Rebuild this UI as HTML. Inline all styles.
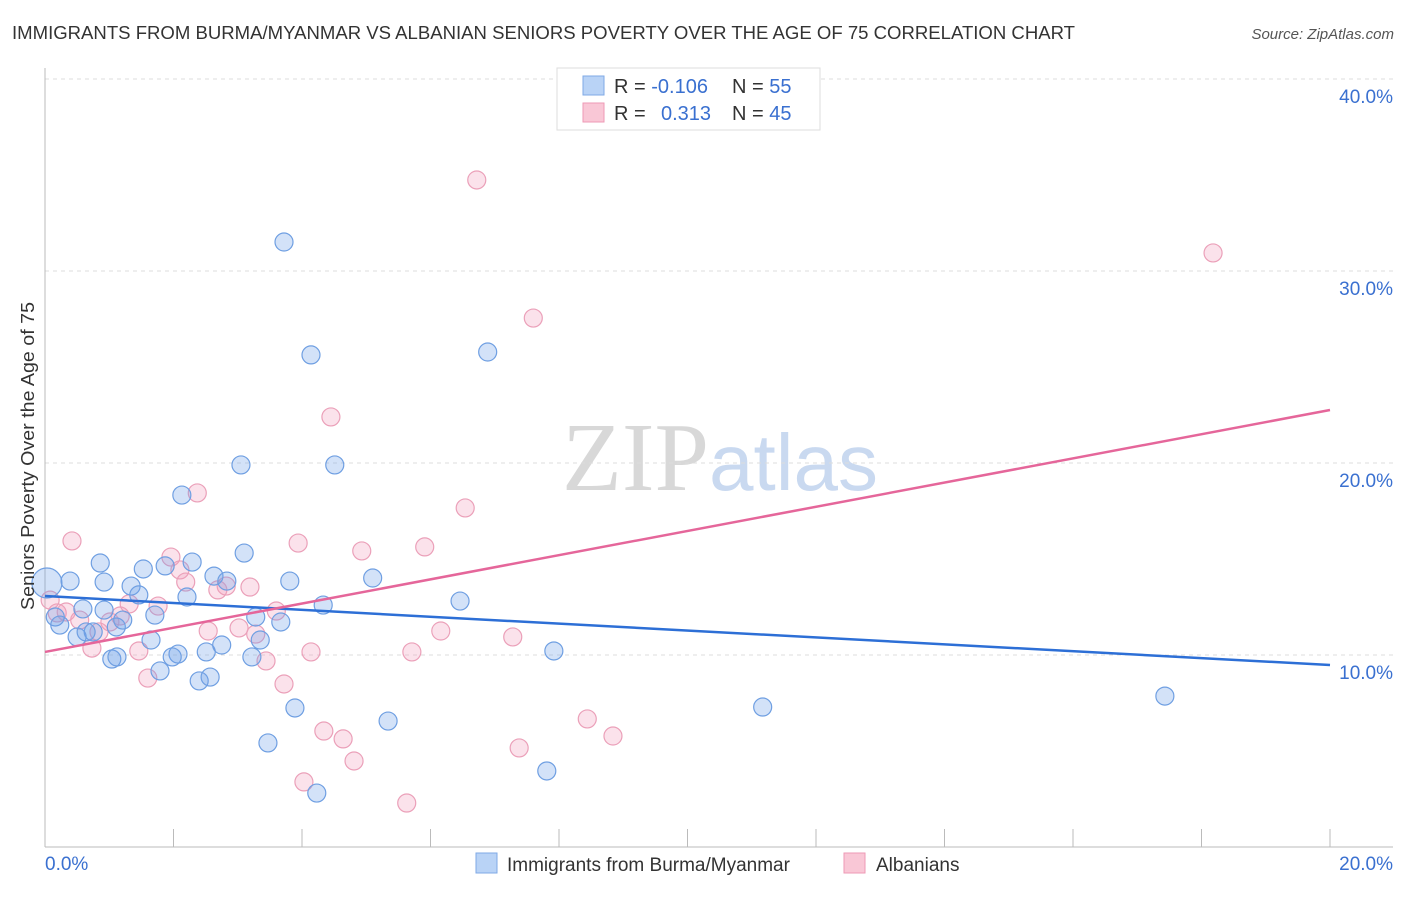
<!DOCTYPE html>
<html><head><meta charset="utf-8">
<style>
body{margin:0;background:#fff;font-family:"Liberation Sans",sans-serif;}
svg text{font-family:"Liberation Sans",sans-serif;}
</style></head>
<body>
<svg id="chart" width="1406" height="892" viewBox="0 0 1406 892" xmlns="http://www.w3.org/2000/svg">
<text x="12" y="39" font-size="18" fill="#333" textLength="1063" lengthAdjust="spacingAndGlyphs">IMMIGRANTS FROM BURMA/MYANMAR VS ALBANIAN SENIORS POVERTY OVER THE AGE OF 75 CORRELATION CHART</text>
<text x="1394" y="39" font-size="15" fill="#555" font-style="italic" text-anchor="end">Source: ZipAtlas.com</text>
<text x="720" y="490" font-size="98" text-anchor="middle"><tspan fill="#d8d8d8" font-family="Liberation Serif">ZIP</tspan><tspan fill="#c9d9f0" font-size="80">atlas</tspan></text>
<g id="grid"></g>
<g id="axes"></g>
<g id="pts"></g>
<g id="trends"></g>
<text transform="translate(34,456) rotate(-90)" font-size="18" fill="#333" text-anchor="middle" textLength="308" lengthAdjust="spacingAndGlyphs">Seniors Poverty Over the Age of 75</text>
<g>
<rect x="557" y="68" width="263" height="62" fill="#fff" stroke="#ddd"/>
<rect x="583" y="76" width="21" height="19" fill="#b9d3f6" stroke="#7fa9e6"/>
<rect x="583" y="103" width="21" height="19" fill="#f9c7d6" stroke="#ee9ab5"/>
<text x="614" y="93" font-size="20" fill="#333">R = <tspan fill="#3a70d0">-0.106</tspan><tspan x="732">N = </tspan><tspan fill="#3a70d0">55</tspan></text>
<text x="614" y="120" font-size="20" fill="#333">R = <tspan x="661" fill="#3a70d0">0.313</tspan><tspan x="732">N = </tspan><tspan fill="#3a70d0">45</tspan></text>
</g>
<g>
<rect x="476" y="853" width="21" height="20" fill="#b9d3f6" stroke="#7fa9e6"/>
<text x="507" y="871" font-size="19" fill="#333">Immigrants from Burma/Myanmar</text>
<rect x="844" y="853" width="21" height="20" fill="#f9c7d6" stroke="#ee9ab5"/>
<text x="876" y="871" font-size="19" fill="#333">Albanians</text>
</g>
</svg>
<script>
const blueX=[0.03,0.39,0.86,0.92,0.59,0.16,0.23,0.50,0.75,1.11,1.34,1.46,1.53,1.71,1.65,1.87,2.29,2.21,2.07,1.98,1.79,1.04,1.12,2.40,2.57,2.51,2.75,2.63,2.83,3.10,3.28,3.35,3.22,3.67,3.81,3.05,2.13,3.72,4.14,4.51,4.33,5.10,3.89,3.47,4.23,5.34,6.46,6.89,7.92,7.81,11.17,17.43,1.21,0.64,0.92];
const blueY=[13.75,13.85,14.79,13.80,12.40,11.98,11.56,10.94,11.20,11.46,13.59,13.13,14.48,12.08,10.78,14.64,14.84,13.02,10.05,9.90,9.17,9.79,9.90,8.65,8.85,10.16,10.52,14.11,13.85,15.31,11.98,10.78,9.90,11.72,13.85,19.90,18.33,31.51,25.63,19.90,12.60,14.01,7.24,5.42,2.81,6.56,12.81,25.78,10.21,3.96,7.29,7.86,11.82,11.20,12.34];
const pinkX=[0.42,0.08,0.19,0.33,0.73,0.54,0.84,1.01,1.17,1.31,1.46,1.60,1.76,1.96,2.10,2.19,2.37,2.54,2.69,2.82,3.02,3.19,3.28,3.44,3.60,3.72,3.94,4.14,4.34,4.45,4.64,4.81,4.93,4.03,5.63,5.71,5.91,6.16,6.54,6.72,7.28,7.38,7.60,8.44,8.84,18.18];
const pinkY=[15.94,12.86,12.19,12.24,10.36,11.82,11.20,11.72,12.03,12.66,10.21,8.80,12.55,15.10,14.43,13.80,18.44,11.25,13.39,13.59,11.41,13.54,11.09,9.69,12.29,8.49,15.83,10.16,6.04,22.40,5.63,4.48,15.42,3.39,2.29,10.16,15.63,11.25,17.66,34.74,10.94,5.16,27.55,6.67,5.78,30.94];
const blueTrend=[13.07,9.48];
const pinkTrend=[10.16,22.76];
const yTicks=[10,20,30,40];
const xTickLabels=["0.0%","20.0%"];
const NS="http://www.w3.org/2000/svg";
const X=v=>45+v/20*1285;
const Y=v=>847-v*19.2;
function mk(tag,attrs,parent){const e=document.createElementNS(NS,tag);for(const k in attrs)e.setAttribute(k,attrs[k]);document.getElementById(parent).appendChild(e);return e;}
yTicks.forEach(t=>{
  const l=mk('line',{x1:45,x2:1393,y1:Y(t),y2:Y(t),stroke:'#ddd','stroke-dasharray':'4,4'},'grid');
  
  
  const tx=mk('text',{x:1393,y:Y(t)+24,'font-size':19,fill:'#3a70d0','text-anchor':'end'},'grid');
  tx.textContent=t.toFixed(1)+'%';
  
  
});
const ax=mk('line',{x1:45,x2:45,y1:68,y2:847,stroke:'#bbb'},'axes');


const bx=mk('line',{x1:45,x2:1393,y1:847,y2:847,stroke:'#bbb'},'axes');


for(let i=0;i<=10;i++){
  const t=mk('line',{x1:X(i*2),x2:X(i*2),y1:829,y2:847,stroke:'#bbb'},'axes');
  
  
}
const xl0=mk('text',{x:45,y:870,'font-size':19,fill:'#3a70d0'},'axes');xl0.textContent=xTickLabels[0];


const xl1=mk('text',{x:1393,y:870,'font-size':19,fill:'#3a70d0','text-anchor':'end'},'axes');xl1.textContent=xTickLabels[1];


function pts(xs,ys,fill,stroke,name){
  xs.forEach((x,i)=>{
    const c=mk('circle',{cx:X(x),cy:Y(ys[i]),r:(i===0&&name==='burma-point')?15:9,fill:fill,stroke:stroke,'stroke-width':1.2},'pts');
    
    
  });
}
pts(pinkX,pinkY,'rgba(243,160,188,0.3)','#eba0b9','albanians-point');
pts(blueX,blueY,'rgba(110,160,232,0.3)','#6f9fe2','burma-point');
const tb=mk('line',{x1:X(0),y1:Y(blueTrend[0]),x2:X(20),y2:Y(blueTrend[1]),stroke:'#2d6fd6','stroke-width':2.5},'trends');


const tp=mk('line',{x1:X(0),y1:Y(pinkTrend[0]),x2:X(20),y2:Y(pinkTrend[1]),stroke:'#e5669a','stroke-width':2.5},'trends');


</script>
</body></html>
